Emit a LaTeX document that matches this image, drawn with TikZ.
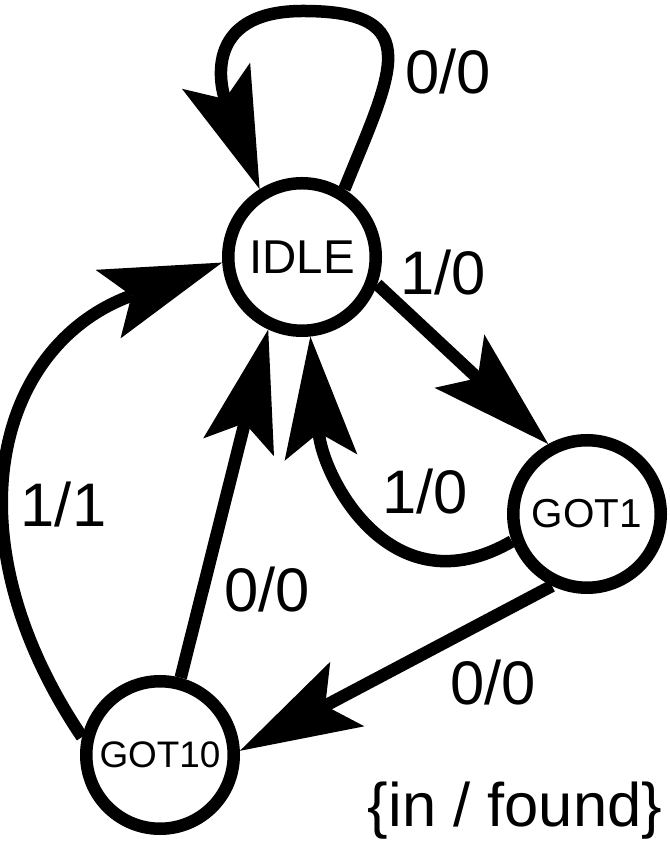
\documentclass[tikz,border=0pt]{standalone}
\usepackage{fontspec}
\setmainfont{Liberation Sans}
\usepackage{tikz}
\usetikzlibrary{arrows.meta}
\tikzset{every picture/.style={line width=0.25cm,>={Stealth[length=2.43cm,width=1.46cm,inset=0.5cm,line width=0pt]}}}
\tikzset{state/.style={circle,draw,minimum size=2.95cm,inner sep=0pt},
  lbl/.style={inner sep=0pt,font=\fontsize{35}{42}\selectfont}}

\begin{document}
\begin{tikzpicture}
            \useasboundingbox (0, 0) rectangle (13.38, 16.84);
            \node[state, font=\fontsize{27}{32}\selectfont] (IDLE) at (6.04, 11.70) {IDLE};
            \node[state, font=\fontsize{23}{28}\selectfont] (GOT1) at (11.74, 6.56) {GOT1};
            \node[state, font=\fontsize{21}{25}\selectfont] (GOT10) at (3.20, 1.74) {GOT10};
            \coordinate (looptop) at (6.06, 16.62);

            \foreach \from/\to in {IDLE.-20/GOT1.119, GOT1.244/GOT10.3, GOT10.75/IDLE.245}
              \draw[->] (\from) -- (\to);
            \draw[->] (IDLE.58) to[out=68, in=0, looseness=1.75] (looptop)
              to[out=180, in=111, looseness=1.45] (IDLE.122);
            \draw[->] (GOT1.200) to[out=210, in=-85, looseness=1.25] (IDLE.-84);
            \draw[->] (GOT10.167) to[out=124, in=200, looseness=1.25] (IDLE.184);

            \node[lbl] (l1) at (8.96, 15.40) {0/0};
            \node[lbl] (l2) at (8.86, 11.38) {1/0};
            \node[lbl] (l3) at (8.50, 7.00) {1/0};
            \node[lbl] (l4) at (5.34, 5.04) {0/0};
            \node[lbl] (l5) at (1.27, 6.74) {1/1};
            \node[lbl] (l6) at (9.86, 3.18) {0/0};
            \node[lbl] (key) at (10.30, 0.62) {\{in / found\}};
        \end{tikzpicture}
\end{document}
